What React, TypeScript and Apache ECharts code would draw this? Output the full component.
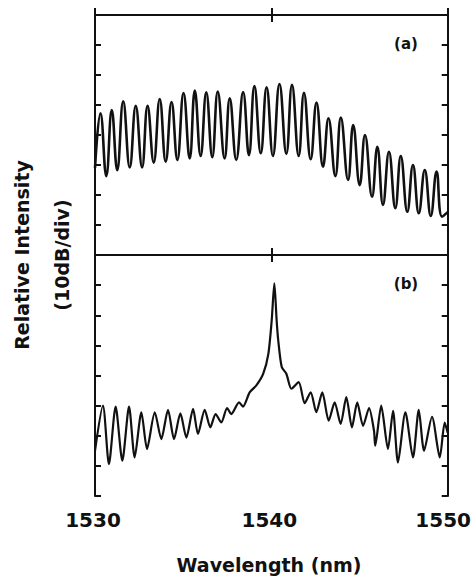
import React, { useEffect, useRef } from "react";
import * as echarts from "echarts";

// Panel (a): wavelength (nm) and relative intensity (dB) read at peaks / valleys
const wavelengthA = [
  1530.0, 1530.31, 1530.64, 1530.95, 1531.26, 1531.6, 1531.97, 1532.31, 1532.67, 1532.98,
  1533.33, 1533.67, 1534.01, 1534.34, 1534.67, 1535.02, 1535.37, 1535.66, 1535.99, 1536.31,
  1536.65, 1536.96, 1537.35, 1537.64, 1538.01, 1538.4, 1538.73, 1539.04, 1539.4, 1539.73,
  1540.09, 1540.46, 1540.85, 1541.17, 1541.55, 1541.85, 1542.23, 1542.56, 1542.93, 1543.24,
  1543.63, 1543.94, 1544.35, 1544.64, 1545.01, 1545.31, 1545.71, 1546.01, 1546.33, 1546.67,
  1547.03, 1547.34, 1547.71, 1548.03, 1548.36, 1548.7, 1549.04, 1549.37, 1549.68, 1550.0,
];
const intensityA = [
  -51, -32.8, -53.7, -31.7, -51.7, -28.8, -50.8, -30.3, -50.8, -30.3,
  -49.2, -28.0, -48.9, -29.0, -48.3, -26.0, -47.8, -25.2, -47.0, -25.8,
  -47.4, -25.5, -47.8, -27.8, -48.3, -25.7, -46.7, -23.7, -46.1, -24.1,
  -47.0, -23.0, -46.3, -23.3, -47.0, -25.9, -48.1, -29.2, -50.6, -34.4,
  -53.7, -34.2, -55.0, -36.7, -56.7, -40.0, -60.6, -43.9, -63.3, -45.6,
  -64.4, -47.0, -65.6, -50.0, -66.1, -51.7, -67.0, -52.2, -67.2, -65.7,
];

// Panel (b)
const wavelengthB = [
  1530.0, 1530.45, 1530.79, 1531.17, 1531.55, 1531.93, 1532.25, 1532.63, 1532.95, 1533.39,
  1533.76, 1534.14, 1534.48, 1534.84, 1535.18, 1535.56, 1535.84, 1536.22, 1536.54, 1536.84,
  1537.16, 1537.49, 1537.73, 1538.17, 1538.39, 1538.77, 1539.15, 1539.54, 1539.83, 1540.02,
  1540.17, 1540.3, 1540.39, 1540.59, 1540.85, 1541.14, 1541.55, 1541.89, 1542.23, 1542.55,
  1542.89, 1543.25, 1543.59, 1543.93, 1544.25, 1544.57, 1544.87, 1545.2, 1545.54, 1545.82,
  1545.89, 1546.23, 1546.61, 1546.9, 1547.18, 1547.6, 1548.03, 1548.36, 1548.66, 1549.11,
  1549.55, 1549.83, 1550.0,
];
const intensityB = [
  -65.0, -50.0, -69.4, -50.3, -68.3, -50.3, -67.2, -52.2, -64.4, -52.2,
  -61.1, -51.4, -61.1, -52.6, -60.6, -51.1, -59.4, -51.4, -57.2, -52.8,
  -55.6, -50.8, -52.8, -48.9, -50.3, -45.6, -43.3, -39.4, -32.8, -21.7,
  -9.4, -21.7, -28.3, -37.2, -39.4, -44.4, -42.2, -49.2, -45.6, -52.2,
  -45.6, -55.0, -48.9, -56.1, -47.2, -57.2, -48.9, -56.7, -50.8, -58.3,
  -63.3, -50.0, -64.4, -51.7, -68.9, -52.2, -67.2, -51.4, -65.0, -53.7,
  -67.2, -55.6, -59.0,
];

const xMin = 1530;
const xMax = 1550;
const xStep = 10;
const yMin = -80;
const yMax = 0;
const yStep = 10;

const panelLabels = ["(a)", "(b)"];
const xTitle = "Wavelength (nm)";
const yTitle1 = "Relative Intensity";
const yTitle2 = "(10dB/div)";

const INK = "#111111";
const FONT = "DejaVu Sans";

export default function App() {
  const ref = useRef<HTMLDivElement>(null);

  useEffect(() => {
    if (!ref.current) return;
    const chart = echarts.init(ref.current, null, { renderer: "svg" });

    const grids = [
      { left: 95, top: 15, width: 352.7, height: 240 },
      { left: 95, top: 255, width: 352.7, height: 241 },
    ];

    const labelText = { color: INK, fontFamily: FONT, fontWeight: "bold", fontSize: 20 };

    const xAxisBase = (gridIndex: number, position: string, showLabel: boolean) => ({
      type: "value",
      gridIndex,
      position,
      min: xMin,
      max: xMax,
      interval: xStep,
      axisLine: { show: true, lineStyle: { color: INK, width: 2 } },
      axisTick: { show: true, inside: true, length: 7, lineStyle: { color: INK, width: 2 } },
      axisLabel: {
        show: showLabel,
        margin: 14,
        ...labelText,
        formatter: (v: number) => (v >= xMax ? `{e|${v}}` : `{n|${v}}`),
        rich: {
          n: { ...labelText, padding: [0, 4, 0, 0] },
          e: { ...labelText, padding: [0, 9, 0, 0] },
        },
      },
      splitLine: { show: false },
    });

    const yAxisBase = (gridIndex: number, position: string) => ({
      type: "value",
      gridIndex,
      position,
      min: yMin,
      max: yMax,
      interval: yStep,
      axisLine: { show: true, lineStyle: { color: INK, width: 2 } },
      axisTick: { show: true, inside: true, length: 6, lineStyle: { color: INK, width: 2 } },
      axisLabel: { show: false },
      splitLine: { show: false },
    });

    const zip = (xs: number[], ys: number[]) => xs.map((x, i) => [x, ys[i]]);

    chart.setOption({
      animation: false,
      backgroundColor: "#ffffff",
      grid: grids.map((g) => ({ ...g, containLabel: false, outerBoundsMode: "none" })),
      xAxis: [
        xAxisBase(0, "bottom", false),
        xAxisBase(0, "top", false),
        xAxisBase(1, "bottom", true),
        xAxisBase(1, "top", false),
      ],
      yAxis: [
        yAxisBase(0, "left"),
        yAxisBase(0, "right"),
        yAxisBase(1, "left"),
        yAxisBase(1, "right"),
      ],
      series: [
        {
          type: "line",
          xAxisIndex: 0,
          yAxisIndex: 0,
          data: zip(wavelengthA, intensityA),
          showSymbol: false,
          symbol: "none",
          smooth: 0.45,
          lineStyle: { color: INK, width: 2.6 },
          clip: true,
        },
        {
          type: "line",
          xAxisIndex: 2,
          yAxisIndex: 2,
          data: zip(wavelengthB, intensityB),
          showSymbol: false,
          symbol: "none",
          smooth: 0.25,
          lineStyle: { color: INK, width: 2.2 },
          clip: true,
        },
      ],
      graphic: [
        {
          type: "text",
          x: 406,
          y: 44,
          style: {
            text: panelLabels[0],
            fill: INK,
            font: `bold 15px "${FONT}"`,
            textAlign: "center",
            textVerticalAlign: "middle",
          },
        },
        {
          type: "text",
          x: 406,
          y: 284,
          style: {
            text: panelLabels[1],
            fill: INK,
            font: `bold 15px "${FONT}"`,
            textAlign: "center",
            textVerticalAlign: "middle",
          },
        },
        {
          type: "text",
          x: 269,
          y: 565,
          style: {
            text: xTitle,
            fill: INK,
            font: `bold 19px "${FONT}"`,
            textAlign: "center",
            textVerticalAlign: "middle",
          },
        },
        {
          type: "text",
          x: 22,
          y: 255,
          rotation: Math.PI / 2,
          style: {
            text: yTitle1,
            fill: INK,
            font: `bold 19px "${FONT}"`,
            textAlign: "center",
            textVerticalAlign: "middle",
          },
        },
        {
          type: "text",
          x: 62,
          y: 255,
          rotation: Math.PI / 2,
          style: {
            text: yTitle2,
            fill: INK,
            font: `bold 19px "${FONT}"`,
            textAlign: "center",
            textVerticalAlign: "middle",
          },
        },
      ],
    });

    return () => chart.dispose();
  }, []);

  return (
    <div
      ref={ref}
      style={{ position: "fixed", left: 0, top: 0, width: 475, height: 584, background: "#fff" }}
    />
  );
}
